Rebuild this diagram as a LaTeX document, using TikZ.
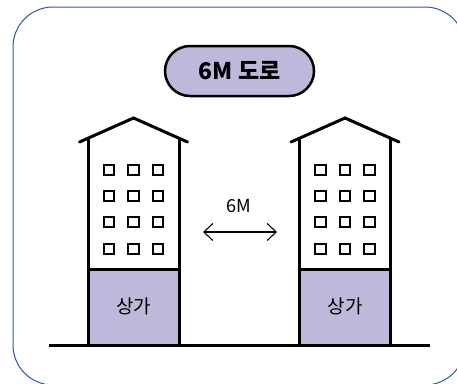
\documentclass[tikz,border=0pt]{standalone}
\usepackage{fontspec}
\setmainfont{Noto Sans CJK KR}
\usetikzlibrary{arrows.meta}
\definecolor{lav}{HTML}{BCB9DA}
\definecolor{frameblue}{HTML}{3057A8}
\tikzset{
  wall/.style={line width=3pt, line join=miter},
  win/.style={line width=2.2pt},
  pill/.style={draw, line width=2.5pt, fill=lav, rounded corners=25pt,
    minimum width=149pt, minimum height=50pt, inner sep=0pt,
    font=\bfseries\fontsize{23}{23}\selectfont},
  label/.style={font=\fontsize{19}{19}\selectfont, inner sep=0pt},
  pics/building/.style={code={
    \fill[lav] (-45.5,0) rectangle (45.5,-76);
    \draw[wall] (-45.5,0) -- (-45.5,-206);
    \draw[wall] (45.5,0) -- (45.5,-206);
    \draw[wall] (-45.5,-76) -- (45.5,-76);
    \draw[wall, line cap=round] (-54,-203) -- (0,-227) -- (54,-203);
    \foreach \r in {-175,-149,-123,-96}
      \foreach \c in {-24.5,0,24.5}
        \draw[win] (\c-5.3,\r-5.3) rectangle (\c+5.3,\r+5.3);
    \node[label] (-shop) at (0,-39) {상가};
  }}
}
\begin{document}
\begin{tikzpicture}[x=1pt,y=-1pt]
  \useasboundingbox (0,0) rectangle (457,383);
  \clip (0,0) rectangle (457,383);
  % outer frame
  \draw[frameblue, line width=1pt, rounded corners=40pt] (13,7) rectangle (465,385);
  % title
  \node[pill] (title) at (239.5,71) {6M 도로};
  % two buildings
  \pic (left) at (133.5,345) {building};
  \pic (right) at (345,345) {building};
  % ground
  \draw[line width=3pt] (49,345) -- (430,345);
  % distance marker
  \node[label, font=\fontsize{18}{18}\selectfont] (dist) at (239,206) {6M};
  \coordinate (da) at (203,232);
  \coordinate (db) at (277,232);
  \draw[line width=1.1pt, {Straight Barb[length=9pt,width=17pt]}-{Straight Barb[length=9pt,width=17pt]}] (da) -- (db);
\end{tikzpicture}
\end{document}
